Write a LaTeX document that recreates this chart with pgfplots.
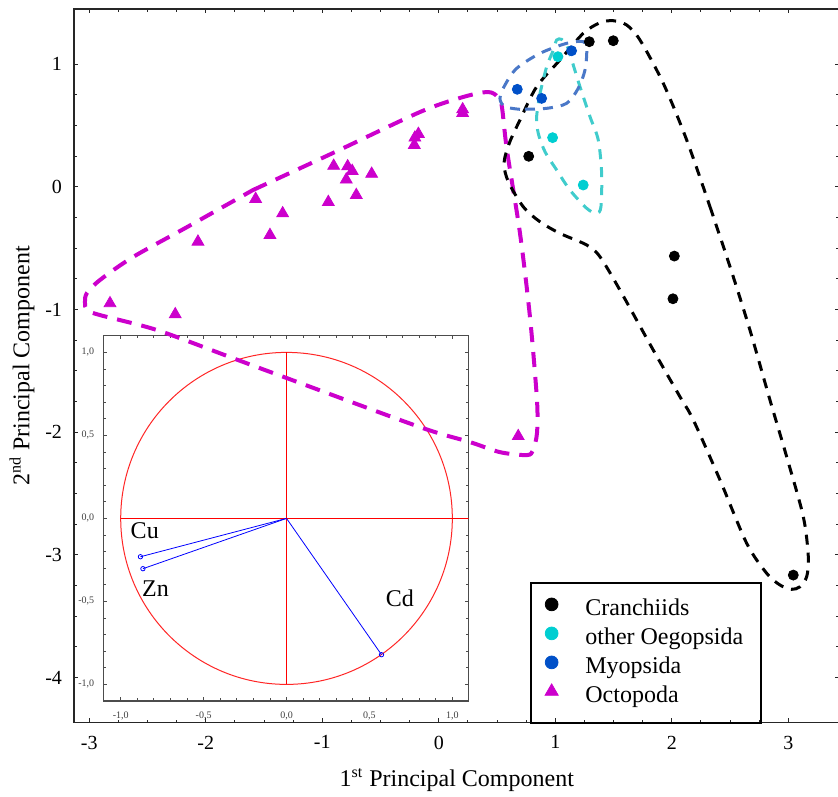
\documentclass[border=0pt]{standalone}
\usepackage{fontspec}
\setmainfont{Liberation Serif}
\usepackage{pgfplots}
\pgfplotsset{compat=1.18}
\definecolor{octo}{RGB}{204,0,204}
\definecolor{oego}{RGB}{0,206,209}
\definecolor{oegoline}{RGB}{64,204,204}
\definecolor{myo}{RGB}{0,80,200}
\definecolor{myoline}{RGB}{74,120,200}
\begin{document}
\begin{tikzpicture}
\path[use as bounding box] (-37pt,-36.65pt) rectangle (382pt,361.35pt);
% ---------- inset: correlation circle ----------
\begin{axis}[
  at={(14.65pt,10.85pt)}, anchor=south west,
  scale only axis, x=82.9pt, y=83pt,
  xmin=-1.105, xmax=1.099, ymin=-1.10, ymax=1.104,
  axis background/.style={fill=white},
  axis line style={line width=0.6pt, black!70},
  tick align=inside,
  xtick={-1,-0.5,0,0.5,1}, ytick={-1,-0.5,0,0.5,1},
  minor tick num=4,
  major tick length=2pt, minor tick length=1.5pt,
  tick style={black!70, line width=0.4pt},
  ticklabel style={font=\fontsize{5}{6}\selectfont, text=black!75},
  xticklabel style={yshift=-2pt},
  yticklabel style={xshift=-1pt},
  /pgf/number format/.cd, fixed, fixed zerofill, precision=1, use comma, assume math mode=true,
]
\draw[red!85, line width=0.5pt] (axis cs:0,0) ellipse [x radius=1, y radius=1];
\addplot[red, line width=0.5pt] coordinates {(-1,0) (1.099,0)};
\addplot[red, line width=0.5pt] coordinates {(0,-1) (0,1)};
\addplot[blue, line width=0.4pt, mark=o, mark size=1.1pt, mark indices={2}] coordinates {(0,0) (-0.881,-0.231)};
\addplot[blue, line width=0.4pt, mark=o, mark size=1.1pt, mark indices={2}] coordinates {(0,0) (-0.866,-0.303)};
\addplot[blue, line width=0.4pt, mark=o, mark size=1.1pt, mark indices={2}] coordinates {(0,0) (0.573,-0.821)};
\node[font=\fontsize{12}{14}\selectfont] at (axis cs:-0.855,-0.072) {Cu};
\node[font=\fontsize{12}{14}\selectfont] at (axis cs:-0.79,-0.424) {Zn};
\node[font=\fontsize{12}{14}\selectfont] at (axis cs:0.683,-0.48) {Cd};
\end{axis}
% ---------- main PCA plot ----------
\begin{axis}[
  at={(0,0)}, anchor=south west,
  scale only axis, x=58.25pt, y=61.35pt,
  xmin=-3.131, xmax=3.44, ymin=-4.368, ymax=1.448,
  clip=false,
  axis line style={line width=0.75pt, black!85},
  tick align=inside,
  xtick={-3,-2,-1,0,1,2,3}, ytick={-4,-3,-2,-1,0,1},
  minor tick num=3,
  major tick length=2.2pt, minor tick length=1.6pt,
  tick style={black!85, line width=0.5pt},
  ticklabel style={font=\fontsize{10}{12}\selectfont},
  xticklabel style={yshift=-3pt},
  yticklabel style={xshift=-2.5pt},
  /pgf/number format/assume math mode=true,
  xlabel={1\textsuperscript{st} Principal Component},
  ylabel={2\textsuperscript{nd} Principal Component},
  label style={font=\fontsize{12}{14}\selectfont},
  xlabel style={at={(axis description cs:0.5,-0.080)}, anchor=center},
  ylabel style={at={(axis description cs:-0.068,0.5)}, anchor=center},
  legend image code/.code={\draw[#1] plot coordinates {(11.15pt,3.5pt)}; \path[draw=none, fill=none] (0pt,0pt) rectangle (28pt,1pt);},
  legend style={at={(axis description cs:0.5969,0.1962)}, anchor=north west, yshift=-6.9pt, xshift=-1pt,
    draw=none, fill=none, inner sep=0pt, row sep=0pt,
    nodes={inner sep=0pt, text height=9.25pt, text depth=5.25pt},
    font=\fontsize{12}{14}\selectfont},
  legend cell align=left,
]
% hull outlines
\addplot[octo, line width=2pt, dash pattern=on 7.5pt off 5pt, smooth, tension=0.5, forget plot] coordinates {
(-1.595,-0.027) (-0.908,0.275) (-0.161,0.609) (0.208,0.731) (0.422,0.772) (0.508,0.731) (0.542,0.650) (0.585,0.299) (0.697,-0.378) (0.783,-1.063) (0.843,-1.739) (0.843,-2.008) (0.809,-2.146) (0.757,-2.187) (0.525,-2.163) (0.268,-2.081) (-0.161,-1.959) (-1.303,-1.560) (-1.767,-1.397) (-2.419,-1.168) (-2.908,-1.046) (-3.020,-1.005) (-3.037,-0.940) (-3.020,-0.866) (-2.908,-0.760) (-2.625,-0.573) (-2.161,-0.329) (-1.595,-0.027)};
\addplot[black, line width=1.5pt, dash pattern=on 5pt off 4pt, smooth, tension=0.5, forget plot] coordinates {
(2.328,-0.163) (2.500,-0.652) (2.671,-1.168) (2.843,-1.739) (2.986,-2.200) (3.129,-2.689) (3.172,-3.015) (3.158,-3.178) (3.100,-3.260) (3.029,-3.281) (2.929,-3.246) (2.815,-3.151) (2.643,-2.906) (2.414,-2.390) (2.185,-1.901) (2.070,-1.711) (1.841,-1.331) (1.555,-0.842) (1.384,-0.571) (1.270,-0.475) (1.040,-0.380) (0.868,-0.285) (0.725,-0.163) (0.597,0.041) (0.560,0.191) (0.605,0.354) (0.697,0.544) (0.840,0.815) (1.040,1.033) (1.240,1.250) (1.384,1.337) (1.498,1.353) (1.613,1.318) (1.727,1.196) (1.927,0.843) (2.128,0.381) (2.328,-0.163)};
\addplot[oegoline, line width=1.5pt, dash pattern=on 5pt off 4pt, smooth, tension=0.5, forget plot] coordinates {
(0.869,0.761) (0.840,0.571) (0.854,0.435) (0.912,0.285) (1.012,0.136) (1.126,-0.027) (1.270,-0.176) (1.355,-0.217) (1.392,-0.163) (1.398,0.109) (1.369,0.381) (1.298,0.571) (1.212,0.815) (1.141,1.033) (1.098,1.155) (1.055,1.201) (1.012,1.196) (0.983,1.113) (0.926,0.978) (0.869,0.761)};
\addplot[myoline, line width=1.5pt, dash pattern=on 5pt off 4pt, smooth, tension=0.5, forget plot] coordinates {
(0.697,0.631) (0.568,0.652) (0.525,0.720) (0.568,0.829) (0.669,0.965) (0.869,1.087) (1.098,1.169) (1.240,1.182) (1.270,1.114) (1.255,0.951) (1.197,0.802) (1.098,0.680) (0.926,0.639) (0.697,0.631)};
% data points
\addplot[only marks, mark=*, mark size=2.5pt, black, mark options={fill=black}, legend image post style={mark size=3.2pt}] coordinates {
(1.292,1.182) (1.498,1.190) (0.772,0.248) (2.022,-0.565) (2.010,-0.913) (3.043,-3.165)};
\addlegendentry{Cranchiids}
\addplot[only marks, mark=*, mark size=2.5pt, oego, mark options={fill=oego}, legend image post style={mark size=3.2pt}] coordinates {
(1.023,1.060) (0.977,0.400) (1.240,0.014)};
\addlegendentry{other Oegopsida}
\addplot[only marks, mark=*, mark size=2.5pt, myo, mark options={fill=myo}, legend image post style={mark size=3.2pt}] coordinates {
(0.674,0.794) (0.883,0.720) (1.140,1.108)};
\addlegendentry{Myopsida}
\addplot[only marks, mark=triangle*, mark size=3.4pt, octo, mark options={fill=octo}, legend image post style={mark size=3.8pt}] coordinates {
(-2.822,-0.950) (-2.262,-1.040) (-2.067,-0.448) (-1.572,-0.100) (-1.449,-0.394) (-1.340,-0.217) (-0.948,-0.125) (-0.902,0.170) (-0.782,0.166) (-0.743,0.128) (-0.794,0.058) (-0.708,-0.068) (-0.576,0.105) (-0.175,0.430) (-0.205,0.400) (-0.210,0.340) (0.205,0.630) (0.205,0.600) (0.682,-2.033)};
\addlegendentry{Octopoda}
% legend frame
\draw[black, line width=1pt] (axis cs:0.791,-4.368) rectangle (axis cs:2.763,-3.227);
\end{axis}
\end{tikzpicture}
\end{document}
